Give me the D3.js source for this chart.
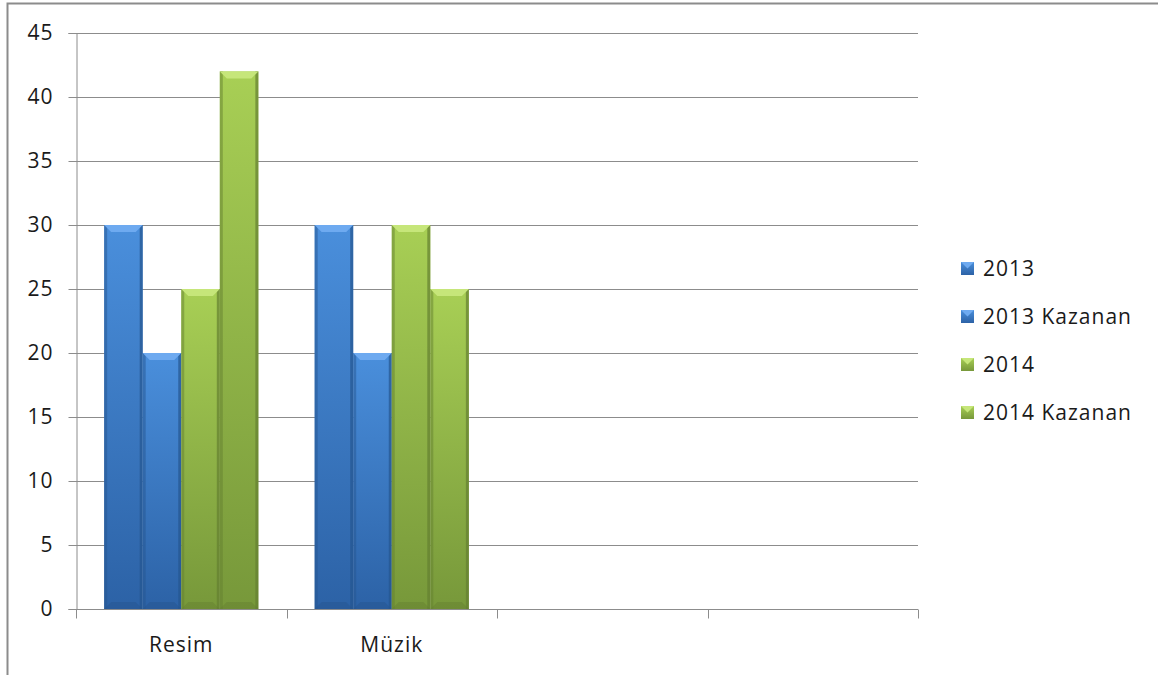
<!DOCTYPE html>
<meta charset="utf-8">
<script src="https://d3js.org/d3.v7.min.js"></script>
<style>
  body { margin: 0; background: #fff; }
  text { font-family: "Open Sans", sans-serif; fill: #1a1a1a; letter-spacing: 1px; }
</style>
<div id="chart"></div>
<script>
// data
const categories = ["Resim", "Müzik", "", " "];
const seriesNames = ["2013", "2013 Kazanan", "2014", "2014 Kazanan"];
const values2013 = [30, 30];
const values2013Kazanan = [20, 20];
const values2014 = [25, 30];
const values2014Kazanan = [42, 25];
const yTicks = [0, 5, 10, 15, 20, 25, 30, 35, 40, 45];

const seriesValues = [values2013, values2013Kazanan, values2014, values2014Kazanan];
const colors = [
  { top: "#4a8fdc", bottom: "#2c62a6", cap: "#6eaaf0", edge: "#25558f" },
  { top: "#4a8fdc", bottom: "#2c62a6", cap: "#6eaaf0", edge: "#25558f" },
  { top: "#a8cf55", bottom: "#77983a", cap: "#c6e67a", edge: "#647f30" },
  { top: "#a8cf55", bottom: "#77983a", cap: "#c6e67a", edge: "#647f30" }
];

const W = 1158, H = 675;
const plot = { left: 76, right: 918, top: 33, bottom: 609 };
const fontSize = 21;

const svg = d3.select("#chart").append("svg")
  .attr("width", W).attr("height", H);

// outer frame (right and bottom edges fall outside the picture)
svg.append("rect")
  .attr("x", 7.5).attr("y", 3.5)
  .attr("width", 1200).attr("height", 700)
  .attr("fill", "none").attr("stroke", "#8c8c8c").attr("stroke-width", 2);

const defs = svg.append("defs");
colors.forEach((c, i) => {
  const g = defs.append("linearGradient").attr("id", "grad" + i)
    .attr("x1", 0).attr("y1", 0).attr("x2", 0).attr("y2", 1);
  g.append("stop").attr("offset", "0%").attr("stop-color", c.top);
  g.append("stop").attr("offset", "100%").attr("stop-color", c.bottom);
});

const y = d3.scaleLinear().domain([0, 45]).range([plot.bottom, plot.top]);
const x = d3.scaleBand().domain(categories).range([plot.left, plot.right])
  .paddingInner(0).paddingOuter(0);
const x1 = d3.scaleBand().domain(d3.range(seriesNames.length))
  .range([0, x.bandwidth()]).paddingInner(0).paddingOuter(0.73);

// gridlines
svg.append("g").selectAll("line").data(yTicks.filter(d => d > 0)).join("line")
  .attr("x1", plot.left).attr("x2", plot.right)
  .attr("y1", d => Math.round(y(d)) + 0.5).attr("y2", d => Math.round(y(d)) + 0.5)
  .attr("stroke", "#8c8c8c").attr("stroke-width", 1);

// y axis
const yAxis = svg.append("g")
  .attr("transform", `translate(${plot.left + 0.5},0)`)
  .call(d3.axisLeft(y).tickValues(yTicks).tickSize(8).tickPadding(15));
yAxis.select(".domain").attr("stroke", "#8c8c8c");
yAxis.selectAll(".tick line").attr("stroke", "#8c8c8c");
yAxis.selectAll(".tick text").attr("font-size", fontSize).attr("fill", "#1a1a1a")
  .attr("font-family", "'Open Sans', sans-serif");

// bars
const groups = svg.append("g").selectAll("g")
  .data(categories.slice(0, values2013.length))
  .join("g")
  .attr("transform", d => `translate(${x(d)},0)`);

groups.each(function (cat, ci) {
  const g = d3.select(this);
  seriesValues.forEach((vals, si) => {
    const v = vals[ci];
    const bx = x1(si), bw = x1.bandwidth();
    const by = y(v), bh = y(0) - y(v);
    const c = colors[si];
    const bev = 7;
    g.append("rect")
      .attr("x", bx).attr("y", by).attr("width", bw).attr("height", bh)
      .attr("fill", `url(#grad${si})`);
    // side edges
    g.append("rect").attr("x", bx).attr("y", by).attr("width", 3).attr("height", bh)
      .attr("fill", c.edge).attr("opacity", 0.5);
    g.append("rect").attr("x", bx + bw - 3).attr("y", by).attr("width", 3).attr("height", bh)
      .attr("fill", c.edge).attr("opacity", 0.7);
    // bottom bevel
    g.append("polygon")
      .attr("points", [[bx, by + bh], [bx + bw, by + bh], [bx + bw - bev, by + bh - bev], [bx + bev, by + bh - bev]].join(" "))
      .attr("fill", c.edge).attr("opacity", 0.45);
    // top bevel
    g.append("polygon")
      .attr("points", [[bx, by], [bx + bw, by], [bx + bw - bev, by + bev], [bx + bev, by + bev]].join(" "))
      .attr("fill", c.cap);
  });
});

// x axis
const xAxis = svg.append("g")
  .attr("transform", `translate(0,${plot.bottom + 0.5})`);
xAxis.append("line")
  .attr("x1", plot.left).attr("x2", plot.right)
  .attr("stroke", "#8c8c8c");
const bounds = categories.map(d => x(d)).concat([plot.right]);
xAxis.selectAll(".xt").data(bounds).join("line")
  .attr("class", "xt")
  .attr("x1", d => Math.round(d) + 0.5).attr("x2", d => Math.round(d) + 0.5)
  .attr("y1", 0).attr("y2", 9)
  .attr("stroke", "#8c8c8c");
xAxis.selectAll(".xl").data(categories).join("text")
  .attr("class", "xl")
  .attr("x", d => x(d) + x.bandwidth() / 2)
  .attr("y", 42)
  .attr("text-anchor", "middle")
  .attr("font-size", fontSize)
  .text(d => d.trim());

// legend
const legend = svg.append("g").attr("transform", "translate(961,268)");
const li = legend.selectAll("g").data(seriesNames).join("g")
  .attr("transform", (d, i) => `translate(0,${i * 48})`);
li.append("rect").attr("x", 0).attr("y", -6).attr("width", 13).attr("height", 13)
  .attr("fill", (d, i) => `url(#grad${i})`);
li.append("polygon")
  .attr("points", "0,-6 13,-6 6.5,0.5")
  .attr("fill", (d, i) => colors[i].cap);
li.append("text").attr("x", 22).attr("y", 8)
  .attr("font-size", fontSize).text(d => d);
</script>
